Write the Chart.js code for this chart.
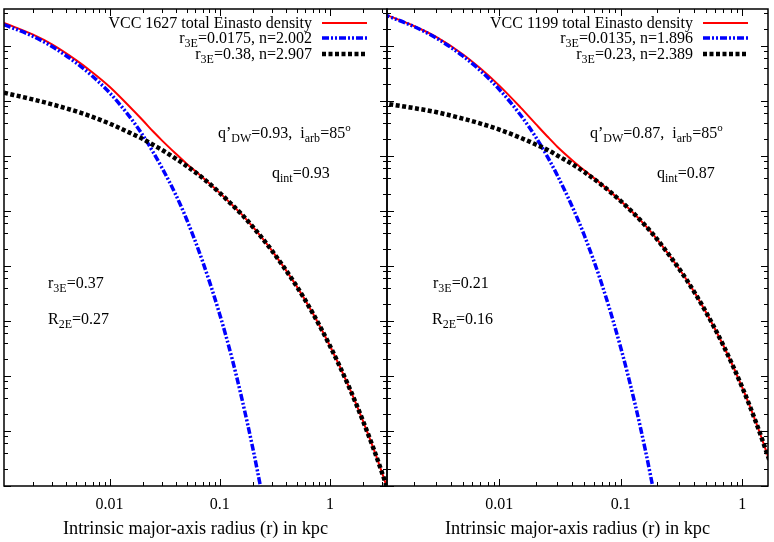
<!DOCTYPE html>
<html><head><meta charset="utf-8">
<script src="https://cdn.jsdelivr.net/npm/chart.js@4/dist/chart.umd.min.js"></script>
<style>
html,body{margin:0;padding:0;background:#fff;}
#wrap{position:relative;width:774px;height:542px;overflow:hidden;font-family:"Liberation Serif","DejaVu Serif",serif;color:#000;}
.pane{position:absolute;top:0;width:390px;height:542px;}
.t{position:absolute;white-space:nowrap;font-size:16px;line-height:16px;}
.t sub{font-size:12px;vertical-align:-4px;line-height:0;}
.t sup{font-size:11px;vertical-align:7px;line-height:0;}
svg.s{position:absolute;overflow:visible;}
</style></head>
<body><div id="wrap">
<div class="pane" style="left:0"><canvas id="c1" width="390" height="542"></canvas></div>
<div class="pane" style="left:384px"><canvas id="c2" width="390" height="542"></canvas></div>
</div>
<script>
// ---------- DATA (density in arbitrary units, stored as log10) ----------
// Left panel: VCC 1627
const radiusL   = [0.0011,0.002,0.003,0.005,0.007,0.01,0.015,0.02,0.025,0.03,0.04,0.05,0.07,0.1,0.13,0.16,0.2,0.24,0.3,0.5,0.7,1,1.5,2,2.5,3,3.4];
const totalL    = [8.42,8.21,8.03,7.74,7.52,7.26,6.91,6.65,6.44,6.28,6.04,5.86,5.61,5.33,5.11,4.93,4.71,4.52,4.27,3.63,3.14,2.55,1.79,1.18,0.67,0.22,-0.11];
const innerL    = [8.39,8.18,7.99,7.69,7.45,7.15,6.73,6.38,6.06,5.78,5.29,4.85,4.08,3.12,2.30,1.56,0.68,-0.11];
const outerL    = [7.15,7.03,6.94,6.81,6.71,6.59,6.43,6.31,6.20,6.11,5.95,5.82,5.60,5.33,5.11,4.93,4.71,4.52,4.27,3.63,3.14,2.55,1.79,1.18,0.67,0.22,-0.11];
// Right panel: VCC 1199
const radiusR   = [0.0011,0.002,0.003,0.005,0.007,0.01,0.015,0.02,0.025,0.03,0.04,0.05,0.07,0.1,0.13,0.16,0.19,0.25,0.35,0.5,0.7,1,1.3,1.7];
const totalR    = [8.59,8.36,8.17,7.85,7.59,7.28,6.88,6.58,6.35,6.17,5.92,5.74,5.48,5.18,4.94,4.73,4.54,4.20,3.74,3.17,2.55,1.79,1.15,0.42];
const innerR    = [8.58,8.35,8.15,7.82,7.55,7.21,6.74,6.34,5.98,5.65,5.07,4.56,3.66,2.51,1.52,0.63,-0.19];
const outerR    = [6.96,6.87,6.80,6.68,6.59,6.48,6.33,6.21,6.11,6.01,5.85,5.71,5.47,5.18,4.94,4.73,4.54,4.20,3.74,3.17,2.55,1.79,1.15,0.42];
// tick labels shown on the radius axis
const xTickLabels = [0.01, 0.1, 1];
const xTitle = 'Intrinsic major-axis radius (r) in kpc';
// axis ranges
const xRangeL = [0.0011, 3.30];
const xRangeR = [0.00119, 1.627];
const yRange  = [1, 4.71e8];

// ---------- styles ----------
const FONT = '"Liberation Serif","DejaVu Serif",serif';
const sty = {
  total: {borderColor:'#ff0000', borderWidth:2, borderDash:[], order:3},
  inner: {borderColor:'#0000ff', borderWidth:3.5, borderDash:[7,2,2,2,2,2], order:2},
  outer: {borderColor:'#000000', borderWidth:4.5, borderDash:[4,2.5], order:1}
};

function pts(r, v){ return v.map((lv,i)=>({x:r[i], y:Math.pow(10, lv)})); }

const frameTicks = {
  id:'frameTicks',
  afterDatasetsDraw(chart){
    const {ctx, chartArea:a, scales:{x, y}} = chart;
    ctx.save();
    ctx.strokeStyle = '#000';
    ctx.lineWidth = 1;
    ctx.beginPath();
    for (let k=-4;k<=1;k++) for (let m=1;m<=9;m++){
      const v = m*Math.pow(10,k);
      if (v < x.min || v > x.max) continue;
      const px = Math.round(x.getPixelForValue(v))+0.5;
      const L = m===1?7:4;
      ctx.moveTo(px,a.bottom); ctx.lineTo(px,a.bottom-L);
      ctx.moveTo(px,a.top); ctx.lineTo(px,a.top+L);
    }
    for (let k=0;k<=9;k++) for (const m of [1,2,4,6,8]){
      const v = m*Math.pow(10,k);
      if (v < y.min || v > y.max) continue;
      const py = Math.round(y.getPixelForValue(v))+0.5;
      const L = m===1?7:4;
      ctx.moveTo(a.left,py); ctx.lineTo(a.left+L,py);
      ctx.moveTo(a.right,py); ctx.lineTo(a.right-L,py);
    }
    ctx.stroke();
    ctx.lineWidth = 1.5;
    ctx.strokeRect(a.left, a.top, a.right-a.left, a.bottom-a.top);
    ctx.restore();
  }
};

function makeChart(id, r, tot, inn, out, xr, labels, pad){
  const mk = (label, data, s) => Object.assign({label, data, pointRadius:0, fill:false,
      cubicInterpolationMode:'monotone', borderCapStyle:'butt'}, s);
  return new Chart(document.getElementById(id), {
    type:'line',
    data:{datasets:[
      mk(labels[0], pts(r,tot), sty.total),
      mk(labels[1], pts(r,inn), sty.inner),
      mk(labels[2], pts(r,out), sty.outer)
    ]},
    options:{
      responsive:false, animation:false, events:[],
      layout:{padding:pad},
      plugins:{legend:{display:false}, tooltip:{enabled:false}},
      scales:{
        x:{type:'logarithmic', min:xr[0], max:xr[1],
           grid:{display:false, drawTicks:true, tickLength:9}, border:{display:false},
           ticks:{autoSkip:false, maxRotation:0, padding:0, color:'#000',
             font:{family:FONT, size:16},
             callback:(v)=>{ for (const t of xTickLabels){ if (Math.abs(v-t)/t < 1e-6) return String(t); } return ''; }},
           title:{display:true, text:xTitle, color:'#000', font:{family:FONT, size:18.3}, padding:{top:2,bottom:2}},
           afterFit(s){ s.height = 56; s.paddingLeft = 0; s.paddingRight = 0; }
        },
        y:{type:'logarithmic', min:yRange[0], max:yRange[1], display:false}
      }
    },
    plugins:[frameTicks]
  });
}

const c1 = makeChart('c1', radiusL, totalL, innerL, outerL, xRangeL,
  ['VCC 1627 total Einasto density','r3E=0.0175, n=2.002','r3E=0.38, n=2.907'], {left:4,right:3,top:9,bottom:0});
const c2 = makeChart('c2', radiusR, totalR, innerR, outerR, xRangeR,
  ['VCC 1199 total Einasto density','r3E=0.0135, n=1.896','r3E=0.23, n=2.389'], {left:3,right:6,top:9,bottom:0});

// ---------- legends & annotations (HTML text with sub/superscripts) ----------
const wrap = document.getElementById('wrap');
function txt(html, css){ const d=document.createElement('div'); d.className='t'; d.innerHTML=html; Object.assign(d.style, css); wrap.appendChild(d); }
function legendHtml(label){ return label.replace(/^r3E/, 'r<sub>3E</sub>'); }
function buildLegend(chart, textRight, sampleX0, sampleX1){
  const rowsY = [22.5, 38, 53.5];
  chart.data.datasets.forEach((ds,i)=>{
    txt(legendHtml(ds.label), {right:(774-textRight)+'px', top:(rowsY[i]-8)+'px'});
    const svg = document.createElementNS('http://www.w3.org/2000/svg','svg');
    svg.setAttribute('class','s'); svg.setAttribute('width', sampleX1-sampleX0); svg.setAttribute('height', 8);
    svg.style.left = sampleX0+'px'; svg.style.top = (rowsY[i]-4)+'px';
    const ln = document.createElementNS('http://www.w3.org/2000/svg','line');
    ln.setAttribute('x1',0); ln.setAttribute('x2',sampleX1-sampleX0); ln.setAttribute('y1',4); ln.setAttribute('y2',4);
    ln.setAttribute('stroke', ds.borderColor); ln.setAttribute('stroke-width', ds.borderWidth);
    if (ds.borderDash.length) ln.setAttribute('stroke-dasharray', ds.borderDash.join(' '));
    svg.appendChild(ln); wrap.appendChild(svg);
  });
}
buildLegend(c1, 312, 322, 367);
buildLegend(c2, 693, 703, 748);

const notes = [
  {x:218, y:125, h:'q’<sub>DW</sub>=0.93,&nbsp; i<sub>arb</sub>=85<sup>o</sup>'},
  {x:272, y:165, h:'q<sub>int</sub>=0.93'},
  {x:48,  y:275, h:'r<sub>3E</sub>=0.37'},
  {x:48,  y:311, h:'R<sub>2E</sub>=0.27'},
  {x:590, y:125, h:'q’<sub>DW</sub>=0.87,&nbsp; i<sub>arb</sub>=85<sup>o</sup>'},
  {x:657, y:165, h:'q<sub>int</sub>=0.87'},
  {x:433, y:275, h:'r<sub>3E</sub>=0.21'},
  {x:432, y:311, h:'R<sub>2E</sub>=0.16'}
];
notes.forEach(n=>txt(n.h, {left:n.x+'px', top:n.y+'px'}));
</script>
</body></html>
